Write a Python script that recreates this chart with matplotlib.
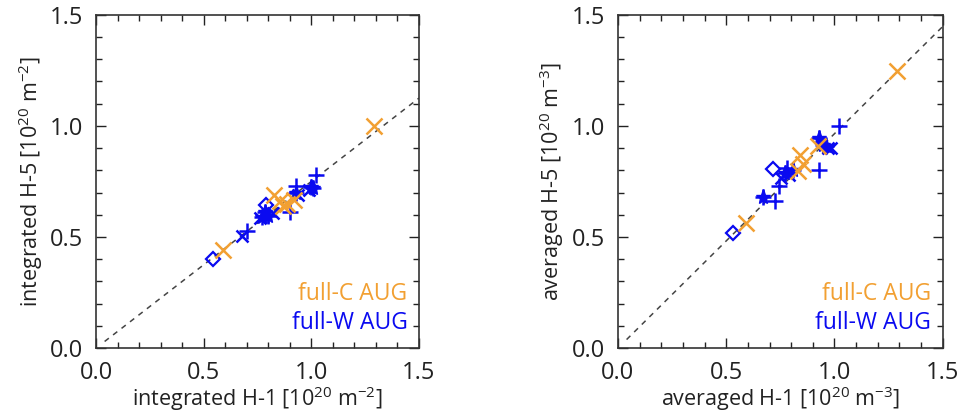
#!/usr/bin/env python3

import numpy as np
import matplotlib
matplotlib.use('Agg')
import matplotlib.pyplot as plt
from matplotlib.ticker import MultipleLocator, FormatStrFormatter

plt.rcParams['font.family'] = ['Open Sans', 'DejaVu Sans']
plt.rcParams['mathtext.fontset'] = 'custom'
plt.rcParams['mathtext.rm'] = 'Open Sans'

ORANGE = '#F2A032'
BLUE = '#0A0AF0'

# --- integrated (left) ---
int_c_x = [1.29, 0.59, 0.825, 0.856, 0.887, 0.918, 0.87]
int_c_y = [1.00, 0.44, 0.69, 0.66, 0.65, 0.667, 0.64]
int_w_diam_x = [0.545, 0.79]
int_w_diam_y = [0.40, 0.644]
int_w_plus_x = [1.02, 0.90, 0.70, 0.93, 0.80]
int_w_plus_y = [0.78, 0.614, 0.527, 0.73, 0.60]
int_w_cross_x = [0.68, 0.76, 0.94, 0.99, 0.82]
int_w_cross_y = [0.505, 0.584, 0.69, 0.71, 0.61]
int_w_star_x = [0.786, 0.80, 0.93, 1.00, 1.01, 0.77]
int_w_star_y = [0.614, 0.595, 0.70, 0.727, 0.72, 0.59]
int_slope = 0.75

# --- averaged (right) ---
avg_c_x = [1.29, 0.59, 0.84, 0.855, 0.83, 0.925]
avg_c_y = [1.245, 0.565, 0.87, 0.83, 0.795, 0.91]
avg_w_diam_x = [0.53, 0.714]
avg_w_diam_y = [0.52, 0.805]
avg_w_plus_x = [1.02, 0.93, 0.725, 0.78, 0.745]
avg_w_plus_y = [1.00, 0.80, 0.66, 0.81, 0.73]
avg_w_cross_x = [0.97, 0.79, 0.755, 0.986]
avg_w_cross_y = [0.90, 0.78, 0.765, 0.90]
avg_w_star_x = [0.93, 0.945, 0.77, 0.81, 0.67, 0.96]
avg_w_star_y = [0.945, 0.915, 0.787, 0.80, 0.68, 0.91]
avg_slope = 0.965


def draw_panel(ax, c_x, c_y, diam_x, diam_y, plus_x, plus_y, cross_x, cross_y,
               star_x, star_y, slope, xlabel, ylabel):
    xs = np.array([0.04, 1.5])
    ax.plot(xs, slope * xs, linestyle=(0, (3.5, 3.5)), color='#444444', lw=1.1, zorder=1)
    ax.plot(diam_x, diam_y, 'D', mfc='none', mec=BLUE, ms=7, mew=1.6, ls='none')
    ax.plot(plus_x, plus_y, '+', color=BLUE, ms=11, mew=1.8, ls='none')
    ax.plot(cross_x, cross_y, 'x', color=BLUE, ms=9, mew=1.8, ls='none')
    ax.plot(star_x, star_y, '*', color=BLUE, ms=11, ls='none')
    ax.plot(star_x, star_y, '+', color=BLUE, ms=11, mew=1.8, ls='none')
    ax.plot(c_x, c_y, 'x', color=ORANGE, ms=11, mew=1.8, ls='none')

    ax.set_xlim(0, 1.5)
    ax.set_ylim(0, 1.5)
    ax.xaxis.set_major_locator(MultipleLocator(0.5))
    ax.yaxis.set_major_locator(MultipleLocator(0.5))
    ax.xaxis.set_minor_locator(MultipleLocator(0.1))
    ax.yaxis.set_minor_locator(MultipleLocator(0.1))
    ax.xaxis.set_major_formatter(FormatStrFormatter('%.1f'))
    ax.yaxis.set_major_formatter(FormatStrFormatter('%.1f'))
    ax.tick_params(which='both', direction='in', top=True, right=True,
                   labelsize=17, colors='#222222', width=1)
    ax.tick_params(which='major', length=7, pad=9)
    ax.tick_params(which='minor', length=4)
    for s in ax.spines.values():
        s.set_color('#333333')
        s.set_linewidth(1.2)
    ax.set_xlabel(xlabel, fontsize=15.5, color='#222222', labelpad=0)
    ax.set_ylabel(ylabel, fontsize=15.5, color='#222222', labelpad=4)
    ax.text(0.965, 0.162, 'full-C AUG', color=ORANGE, fontsize=16.5,
            ha='right', va='center', transform=ax.transAxes)
    ax.text(0.965, 0.075, 'full-W AUG', color=BLUE, fontsize=16.5,
            ha='right', va='center', transform=ax.transAxes)


fig = plt.figure(figsize=(9.61, 4.12), dpi=100)
ax1 = fig.add_axes([0.0999, 0.155, 0.336, 0.809])
ax2 = fig.add_axes([0.643, 0.155, 0.338, 0.809])

draw_panel(ax1, int_c_x, int_c_y, int_w_diam_x, int_w_diam_y, int_w_plus_x, int_w_plus_y,
           int_w_cross_x, int_w_cross_y, int_w_star_x, int_w_star_y, int_slope,
           r'integrated H-1 [10$^{20}$ m$^{-2}$]', r'integrated H-5 [10$^{20}$ m$^{-2}$]')
draw_panel(ax2, avg_c_x, avg_c_y, avg_w_diam_x, avg_w_diam_y, avg_w_plus_x, avg_w_plus_y,
           avg_w_cross_x, avg_w_cross_y, avg_w_star_x, avg_w_star_y, avg_slope,
           r'averaged H-1 [10$^{20}$ m$^{-3}$]', r'averaged H-5 [10$^{20}$ m$^{-3}$]')

fig.savefig('out.png', dpi=100)
